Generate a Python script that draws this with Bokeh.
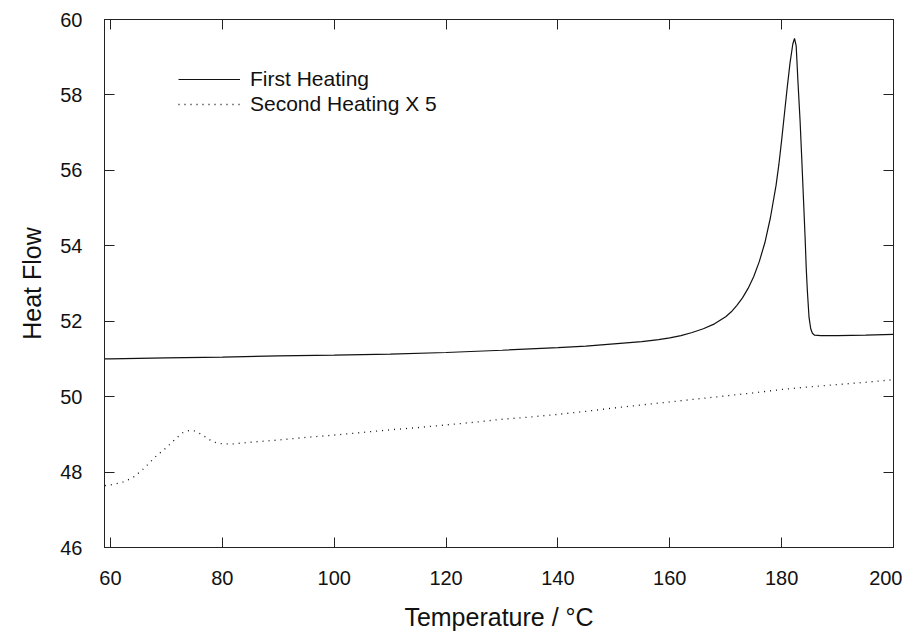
from bokeh.plotting import figure
from bokeh.models import Range1d, LinearAxis, Legend, LegendItem, FixedTicker
from bokeh.embed import file_html
from bokeh.resources import INLINE

# First heating (solid)
temp_first = [58.9, 60, 70, 80, 90, 100, 110, 120, 130, 140, 145, 150, 155, 158, 160, 162,
              164, 166, 168, 170, 171, 172, 173, 174, 175, 176, 177, 178, 179, 179.5,
              180, 180.5, 181, 181.5, 182.0, 182.3, 182.6, 182.9, 183.3, 183.6, 184.0, 184.2,
              184.4, 184.6, 184.9, 185.2, 185.5, 185.9, 187, 190, 195, 200]
heat_first = [51.0, 51.0, 51.03, 51.05, 51.08, 51.1, 51.13, 51.17, 51.23, 51.3, 51.34, 51.4,
              51.46, 51.51, 51.56, 51.62, 51.7, 51.8, 51.93, 52.12, 52.25, 52.42, 52.62, 52.87,
              53.18, 53.58, 54.08, 54.75, 55.6, 56.15, 56.8, 57.5, 58.2, 58.85, 59.35, 59.5,
              59.3, 58.4, 57.3, 56.3, 54.9, 54.2, 53.4, 52.8, 52.1, 51.8, 51.68, 51.63, 51.62,
              51.62, 51.63, 51.65]

# Second heating x 5 (dotted)
temp_second = [59.0, 60, 62, 64, 66, 68, 70, 72, 73, 74, 75, 76, 77, 78, 79, 80, 82, 85, 90,
               95, 100, 105, 110, 115, 120, 125, 130, 135, 140, 145, 150, 155, 160, 165, 170,
               175, 180, 185, 190, 195, 200]
heat_second = [47.64, 47.66, 47.72, 47.85, 48.1, 48.4, 48.65, 48.93, 49.05, 49.1, 49.09, 49.02,
               48.93, 48.83, 48.77, 48.75, 48.75, 48.79, 48.85, 48.92, 48.98, 49.05, 49.12,
               49.18, 49.25, 49.32, 49.4, 49.46, 49.53, 49.61, 49.7, 49.78, 49.86, 49.94, 50.02,
               50.1, 50.19, 50.26, 50.32, 50.38, 50.45]

x_ticks = [60, 80, 100, 120, 140, 160, 180, 200]
y_ticks = [46, 48, 50, 52, 54, 56, 58, 60]

FONT = "Liberation Sans"

p = figure(width=902, height=639, output_backend="svg", toolbar_location=None,
           x_range=Range1d(58.93, 200), y_range=Range1d(46, 60),
           min_border_left=104, min_border_right=9, min_border_top=19, min_border_bottom=92)
p.background_fill_color = "white"
p.border_fill_color = "white"
p.outline_line_color = "#222222"
p.outline_line_width = 1
p.xgrid.visible = False
p.ygrid.visible = False

r1 = p.line(temp_first, heat_first, line_color="#111111", line_width=1.2)
r2 = p.line(temp_second, heat_second, line_color="#111111", line_width=1.3, line_dash="1 5")

for ax in p.xaxis:
    ax.ticker = FixedTicker(ticks=x_ticks)
    ax.axis_label = "Temperature / °C"
    ax.axis_label_text_font = FONT
    ax.axis_label_text_font_size = "25px"
    ax.axis_label_text_font_style = "normal"
    ax.axis_label_text_color = "#111111"
    ax.axis_label_standoff = 15
    ax.major_label_text_font = FONT
    ax.major_label_text_font_size = "20px"
    ax.major_label_text_color = "#111111"
    ax.major_label_standoff = 23
    ax.major_tick_in = 10
    ax.major_tick_out = 0
    ax.minor_tick_in = 0
    ax.minor_tick_out = 0
    ax.axis_line_color = "#222222"
    ax.major_tick_line_color = "#222222"

for ax in p.yaxis:
    ax.ticker = FixedTicker(ticks=y_ticks)
    ax.axis_label = "Heat Flow"
    ax.axis_label_text_font = FONT
    ax.axis_label_text_font_size = "25px"
    ax.axis_label_text_font_style = "normal"
    ax.axis_label_text_color = "#111111"
    ax.axis_label_standoff = 11
    ax.major_label_text_font = FONT
    ax.major_label_text_font_size = "20px"
    ax.major_label_text_color = "#111111"
    ax.major_label_standoff = 22
    ax.major_tick_in = 10
    ax.major_tick_out = 0
    ax.minor_tick_in = 0
    ax.minor_tick_out = 0
    ax.axis_line_color = "#222222"
    ax.major_tick_line_color = "#222222"

top = LinearAxis(ticker=FixedTicker(ticks=x_ticks), major_tick_in=10, major_tick_out=0,
                 minor_tick_in=0, minor_tick_out=0,
                 major_label_overrides={t: "" for t in x_ticks},
                 major_label_standoff=0, axis_line_color="#222222",
                 major_tick_line_color="#222222")
p.add_layout(top, "above")
right = LinearAxis(ticker=FixedTicker(ticks=y_ticks), major_tick_in=10, major_tick_out=0,
                   minor_tick_in=0, minor_tick_out=0,
                   major_label_overrides={t: "" for t in y_ticks},
                   major_label_standoff=0, axis_line_color="#222222",
                   major_tick_line_color="#222222")
p.add_layout(right, "right")

legend = Legend(items=[LegendItem(label="First Heating", renderers=[r1]),
                       LegendItem(label="Second Heating X 5", renderers=[r2])],
                location=(74, 431), padding=0, margin=0, spacing=1,
                glyph_width=62, glyph_height=20, label_height=20, label_standoff=10,
                label_text_font=FONT, label_text_font_size="21px", label_text_color="#111111",
                border_line_color=None, background_fill_alpha=0)
p.add_layout(legend)

open("out.html", "w").write(file_html(p, INLINE))
